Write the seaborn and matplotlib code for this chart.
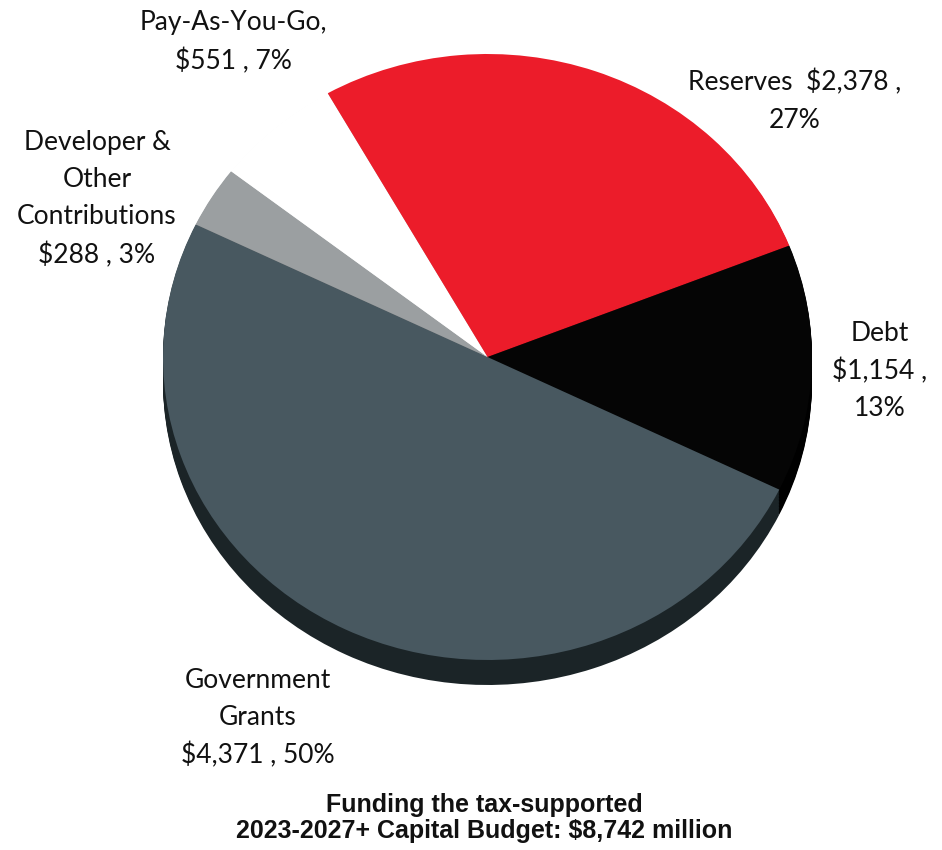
import matplotlib
matplotlib.use("Agg")
import matplotlib.pyplot as plt
import seaborn as sns
import numpy as np

# Funding sources for the 2023-2027+ tax-supported capital budget ($ millions)
sources = ["Reserves", "Debt", "Government Grants",
           "Developer & Other Contributions", "Pay-As-You-Go"]
amounts = [2378, 1154, 4371, 288, 551]
percents = [27, 13, 50, 3, 7]
total = 8742

top_colors = ["#ec1c2a", "#050505", "#485860", "#9b9fa1", "#ffffff"]
side_colors = ["#a01018", "#000000", "#1b2427", "#5d6163", "#e6e6e6"]

sns.set_theme(style="white")
plt.rcParams["font.family"] = ["Lato", "DejaVu Sans"]

W, H = 942, 850
fig = plt.figure(figsize=(W / 100, H / 100), dpi=100)
ax = fig.add_axes([0, 0, 1, 1])

# pie ellipse in pixels: centre (487.5, 357), half-width 324.5, half-height 303
cx, cy, rx, ry = 487.5, 357.0, 324.5, 303.0
depth_px = 25

# side of the disc: stacked copies of the pie, darker, shifted downward
for d in np.arange(depth_px, 0, -1.5):
    ax.pie(amounts, colors=side_colors, startangle=119.5, counterclock=False,
           center=(0, -d / ry), radius=1, frame=True,
           wedgeprops=dict(linewidth=0))
# top face
ax.pie(amounts, colors=top_colors, startangle=119.5, counterclock=False,
       center=(0, 0), radius=1, frame=True,
       wedgeprops=dict(linewidth=0))
ax.set_aspect("auto")
ax.set_xlim(-cx / rx, (W - cx) / rx)
ax.set_ylim((cy - H) / ry, cy / ry)
ax.axis("off")

labels = [
    f"Reserves  ${amounts[0]:,} ,\n{percents[0]}%",
    f"Debt\n${amounts[1]:,} ,\n{percents[1]}%",
    f"Government\nGrants\n${amounts[2]:,} , {percents[2]}%",
    f"Developer &\nOther\nContributions\n${amounts[3]:,} , {percents[3]}%",
    f"Pay-As-You-Go,\n${amounts[4]:,} , {percents[4]}%",
]
label_pos = [(795, 101), (880, 371), (258, 718), (97, 199), (233, 42)]
for txt, (x, y) in zip(labels, label_pos):
    fig.text(x / W, 1 - y / H, txt, ha="center", va="center", fontsize=19,
             linespacing=1.6, color="#111111")

fig.text(484.5 / W, 1 - 818 / H,
         f"Funding the tax-supported\n2023-2027+ Capital Budget: ${total:,} million",
         ha="center", va="center", fontsize=18, fontweight="bold",
         family=["Liberation Sans", "DejaVu Sans"], linespacing=1.1,
         color="#111111")

fig.savefig("out.png", dpi=100, facecolor="white")
